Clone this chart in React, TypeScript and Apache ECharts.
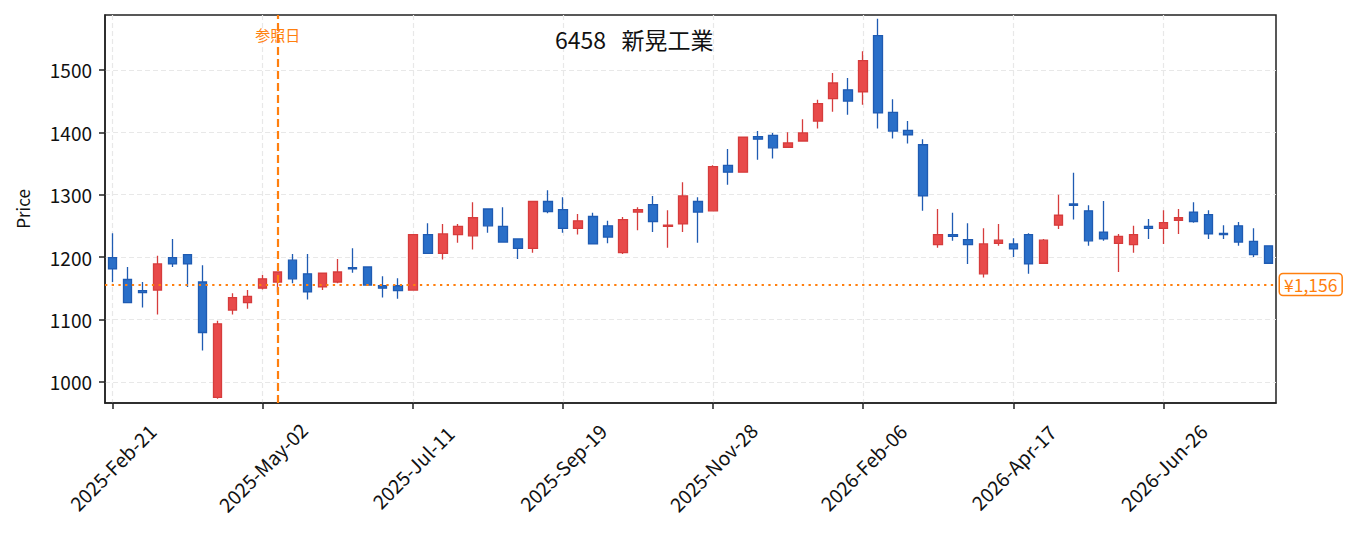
import React, { useEffect, useRef } from "react";
import * as echarts from "echarts";

const dates = [
  "2025-Feb-21", "2025-Feb-28", "2025-Mar-07", "2025-Mar-14", "2025-Mar-21", "2025-Mar-28", "2025-Apr-04", "2025-Apr-11", "2025-Apr-18", "2025-Apr-25",
  "2025-May-02", "2025-May-09", "2025-May-16", "2025-May-23", "2025-May-30", "2025-Jun-06", "2025-Jun-13", "2025-Jun-20", "2025-Jun-27", "2025-Jul-04",
  "2025-Jul-11", "2025-Jul-18", "2025-Jul-25", "2025-Aug-01", "2025-Aug-08", "2025-Aug-15", "2025-Aug-22", "2025-Aug-29", "2025-Sep-05", "2025-Sep-12",
  "2025-Sep-19", "2025-Sep-26", "2025-Oct-03", "2025-Oct-10", "2025-Oct-17", "2025-Oct-24", "2025-Oct-31", "2025-Nov-07", "2025-Nov-14", "2025-Nov-21",
  "2025-Nov-28", "2025-Dec-05", "2025-Dec-12", "2025-Dec-19", "2025-Dec-26", "2026-Jan-02", "2026-Jan-09", "2026-Jan-16", "2026-Jan-23", "2026-Jan-30",
  "2026-Feb-06", "2026-Feb-13", "2026-Feb-20", "2026-Feb-27", "2026-Mar-06", "2026-Mar-13", "2026-Mar-20", "2026-Mar-27", "2026-Apr-03", "2026-Apr-10",
  "2026-Apr-17", "2026-Apr-24", "2026-May-01", "2026-May-08", "2026-May-15", "2026-May-22", "2026-May-29", "2026-Jun-05", "2026-Jun-12", "2026-Jun-19",
  "2026-Jun-26", "2026-Jul-03", "2026-Jul-10", "2026-Jul-17", "2026-Jul-24", "2026-Jul-31", "2026-Aug-07", "2026-Aug-14",
];

const opens = [
  1199, 1164, 1146, 1147, 1199, 1204, 1160, 975, 1115, 1127,
  1150, 1160, 1195, 1173, 1152, 1160, 1183, 1184, 1154, 1154,
  1147, 1236, 1206, 1236, 1234, 1277, 1249, 1229, 1214, 1289,
  1276, 1246, 1265, 1250, 1207, 1272, 1284, 1249, 1253, 1289,
  1274, 1347, 1336, 1393, 1395, 1376, 1386, 1418, 1454, 1468,
  1465, 1555, 1432, 1403, 1380, 1220, 1236, 1228, 1173, 1222,
  1221, 1236, 1190, 1251, 1285, 1274, 1240, 1222, 1220, 1249,
  1246, 1259, 1272, 1268, 1238, 1250, 1225, 1218,
];
const closes = [
  1181, 1127, 1143, 1189, 1189, 1189, 1079, 1093, 1135, 1137,
  1165, 1176, 1165, 1144, 1174, 1176, 1181, 1155, 1150, 1146,
  1236, 1206, 1237, 1249, 1263, 1250, 1224, 1214, 1289, 1273,
  1246, 1258, 1221, 1232, 1260, 1276, 1257, 1251, 1298, 1272,
  1345, 1336, 1392, 1389, 1375, 1383, 1399, 1446, 1479, 1450,
  1515, 1431, 1402, 1396, 1298, 1236, 1233, 1220, 1221, 1227,
  1213, 1189, 1227, 1267, 1283, 1226, 1229, 1233, 1236, 1246,
  1255, 1263, 1257, 1237, 1236, 1224, 1204, 1190,
];
const lows = [
  1160, 1127, 1119, 1108, 1184, 1152, 1050, 973, 1108, 1117,
  1148, 1143, 1158, 1132, 1147, 1158, 1175, 1155, 1135, 1133,
  1147, 1206, 1196, 1223, 1212, 1239, 1224, 1197, 1207, 1270,
  1239, 1236, 1221, 1222, 1205, 1243, 1240, 1215, 1240, 1223,
  1274, 1316, 1336, 1356, 1358, 1376, 1386, 1406, 1433, 1428,
  1444, 1406, 1390, 1382, 1274, 1215, 1226, 1189, 1167, 1218,
  1200, 1173, 1190, 1245, 1260, 1218, 1226, 1176, 1207, 1229,
  1221, 1237, 1255, 1229, 1229, 1218, 1200, 1190,
];
const highs = [
  1238, 1184, 1160, 1202, 1229, 1205, 1187, 1098, 1142, 1147,
  1171, 1177, 1205, 1205, 1175, 1197, 1214, 1185, 1169, 1166,
  1236, 1254, 1253, 1253, 1288, 1278, 1280, 1229, 1289, 1307,
  1296, 1269, 1271, 1258, 1264, 1280, 1298, 1275, 1320, 1296,
  1347, 1373, 1392, 1402, 1399, 1400, 1421, 1452, 1495, 1487,
  1530, 1582, 1453, 1418, 1389, 1277, 1271, 1254, 1246, 1253,
  1230, 1238, 1229, 1300, 1335, 1283, 1290, 1237, 1250, 1261,
  1275, 1277, 1288, 1275, 1251, 1256, 1246, 1218,
];

const yTicks = [1000, 1100, 1200, 1300, 1400, 1500];
const referenceDate = "2025-May-09";
const referencePrice = 1156;
const referenceLabel = "¥1,156";
const referenceDateLabel = "参照日";
const titleText = "6458   新晃工業";

const FONT = "'Noto Sans CJK JP', 'Noto Sans', sans-serif";
const ORANGE = "#ff7f0e";

export default function App() {
  const ref = useRef<HTMLDivElement>(null);

  useEffect(() => {
    if (!ref.current) return;
    const chart = echarts.init(ref.current, null, { renderer: "svg" });
    const candles = dates.map((_, i) => [opens[i], closes[i], lows[i], highs[i]]);

    chart.setOption({
      animation: false,
      backgroundColor: "#ffffff",
      textStyle: { fontFamily: FONT },
      title: {
        text: titleText,
        left: 550,
        top: 22,
        textStyle: { fontFamily: FONT, fontSize: 23, fontWeight: "normal", color: "#111" },
      },
      grid: {
        left: 105,
        right: 79,
        top: 15,
        bottom: 130,
        show: true,
        borderColor: "#222",
        borderWidth: 1.5,
        backgroundColor: "transparent",
      },
      xAxis: {
        type: "category",
        data: dates,
        boundaryGap: true,
        axisLine: { show: true, lineStyle: { color: "#222", width: 1.5 } },
        axisTick: {
          show: true,
          interval: 9,
          alignWithLabel: true,
          length: 6,
          lineStyle: { color: "#222", width: 1.5 },
        },
        axisLabel: {
          interval: 9,
          rotate: 45,
          align: "center",
          verticalAlign: "middle",
          margin: 64,
          fontSize: 19.5,
          color: "#111",
          fontFamily: FONT,
        },
        splitLine: {
          show: true,
          interval: 9,
          alignWithLabel: true,
          lineStyle: { type: [5, 3], color: "#e8e8e8", width: 1.2 },
        },
      },
      yAxis: {
        type: "value",
        min: 966,
        max: 1588,
        scale: true,
        name: "Price",
        nameLocation: "middle",
        nameGap: 74,
        nameTextStyle: { fontSize: 17, color: "#111", fontFamily: FONT },
        axisLine: { show: true, lineStyle: { color: "#222", width: 1.5 } },
        axisTick: {
          show: true,
          customValues: yTicks,
          length: 6,
          lineStyle: { color: "#222", width: 1.5 },
        },
        axisLabel: {
          customValues: yTicks,
          formatter: (v: number) => String(v),
          fontSize: 19,
          color: "#111",
          margin: 13,
          fontFamily: FONT,
        },
        splitLine: {
          show: true,
          lineStyle: { type: [5, 3], color: "#e8e8e8", width: 1.2 },
        },
      },
      series: [
        {
          type: "candlestick",
          data: candles,
          barWidth: 9,
          itemStyle: {
            color: "#e84a4a",
            color0: "#2a6fc8",
            borderColor: "#d63c3c",
            borderColor0: "#1f5bb2",
            borderWidth: 1.3,
          },
          markLine: {
            silent: true,
            symbol: ["none", "none"],
            data: [
              {
                xAxis: referenceDate,
                lineStyle: { color: ORANGE, type: [8, 4], width: 2.2 },
                label: { show: false },
              },
              {
                yAxis: referencePrice,
                lineStyle: { color: ORANGE, type: [2.3, 4.4], width: 2.2 },
                label: {
                  show: true,
                  position: "end",
                  distance: 4,
                  formatter: referenceLabel,
                  color: ORANGE,
                  fontSize: 17.5,
                  fontFamily: FONT,
                  backgroundColor: "#fff",
                  borderColor: ORANGE,
                  borderWidth: 1.5,
                  borderRadius: 3,
                  padding: [2, 4, 1, 4],
                },
              },
            ],
          },
          markPoint: {
            silent: true,
            symbol: "circle",
            symbolSize: 1,
            itemStyle: { color: "rgba(0,0,0,0)" },
            data: [
              {
                coord: [referenceDate, 1557],
                label: {
                  show: true,
                  position: "inside",
                  formatter: referenceDateLabel,
                  color: ORANGE,
                  fontSize: 15,
                  fontFamily: FONT,
                },
              },
            ],
          },
        },
      ],
    });

    return () => chart.dispose();
  }, []);

  return (
    <div
      ref={ref}
      style={{ position: "fixed", left: 0, top: 0, width: 1355, height: 533, background: "#fff" }}
    />
  );
}
